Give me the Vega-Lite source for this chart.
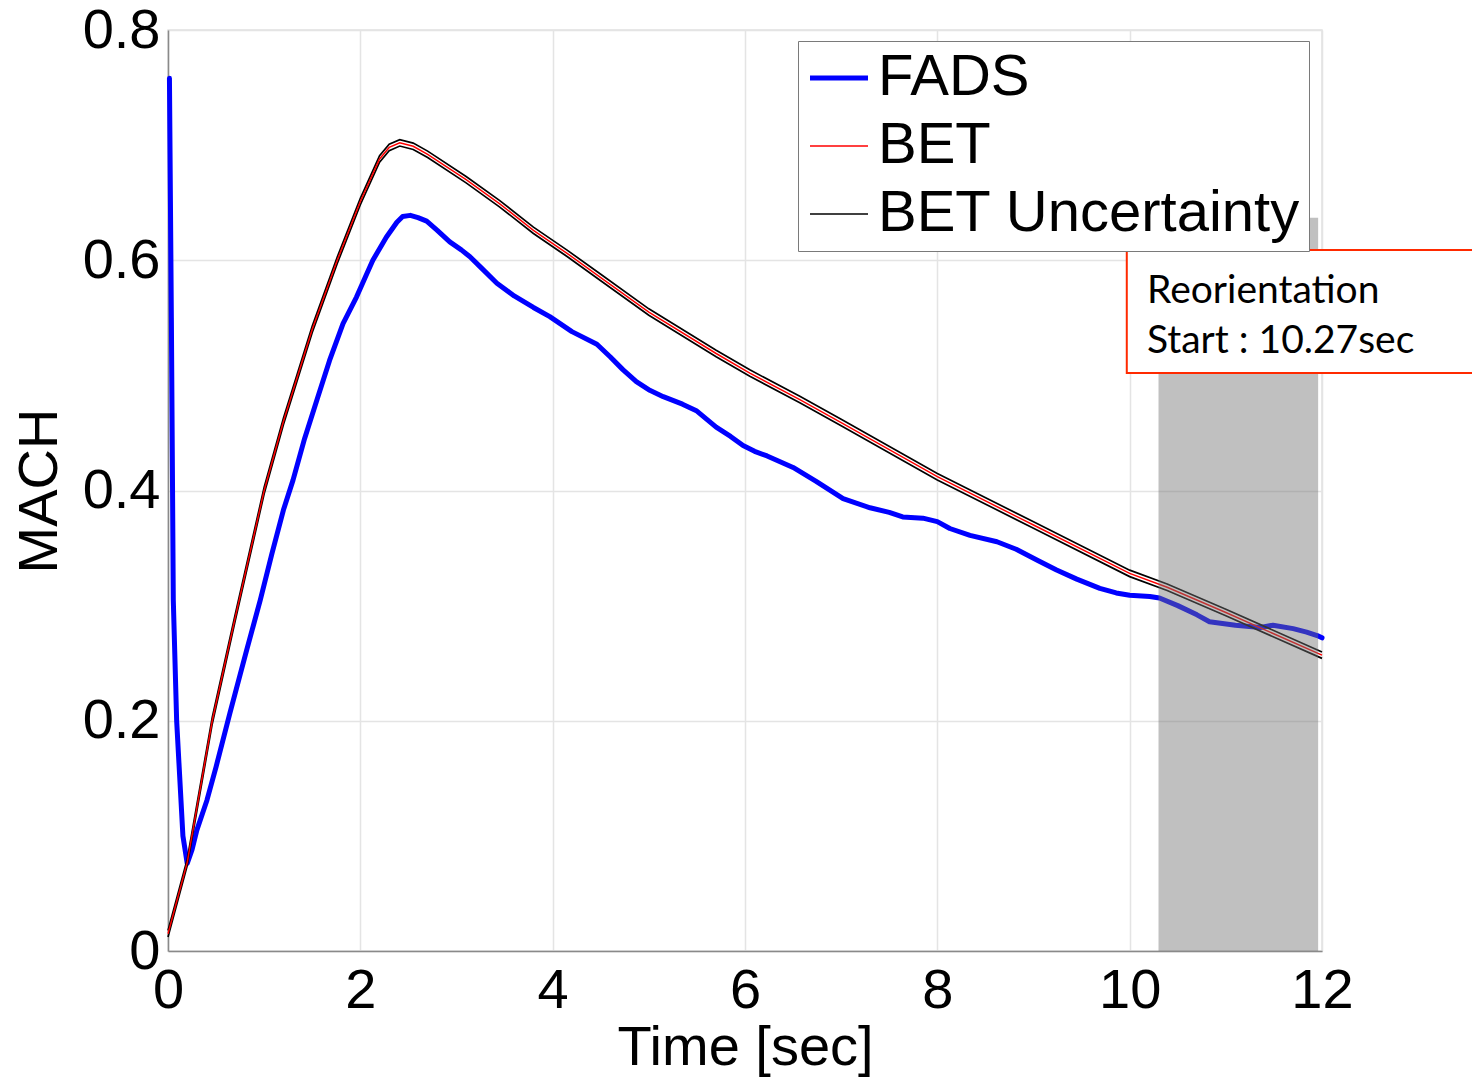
{
  "$schema": "https://vega.github.io/schema/vega-lite/v6.json",
  "width": 1154,
  "height": 921,
  "autosize": {"type": "none"},
  "padding": {"left": 168, "top": 30, "right": 150, "bottom": 129},
  "background": "white",
  "config": {
    "font": "Liberation Sans",
    "view": {"stroke": "#e2e2e2", "strokeWidth": 1.5},
    "axis": {
      "labelFont": "Liberation Sans", "labelFontSize": 56, "labelColor": "#000000",
      "titleFont": "Liberation Sans", "titleFontSize": 56, "titleFontWeight": "normal", "titleColor": "#000000",
      "gridColor": "#e4e4e4", "gridWidth": 1.5,
      "domainColor": "#8a8a8a", "domainWidth": 1.5,
      "tickColor": "#555555", "labelFlush": false, "labelOverlap": false
    }
  },
  "datasets": {
    "fads": [
      {"t": 0.015, "m": 0.758}, {"t": 0.035, "m": 0.55}, {"t": 0.055, "m": 0.305}, {"t": 0.09, "m": 0.2},
      {"t": 0.155, "m": 0.1}, {"t": 0.2, "m": 0.076}, {"t": 0.25, "m": 0.088}, {"t": 0.3, "m": 0.105},
      {"t": 0.405, "m": 0.131}, {"t": 0.5, "m": 0.16}, {"t": 0.645, "m": 0.207}, {"t": 0.75, "m": 0.24},
      {"t": 0.82, "m": 0.262}, {"t": 0.96, "m": 0.305}, {"t": 1.08, "m": 0.345}, {"t": 1.2, "m": 0.383},
      {"t": 1.3, "m": 0.409}, {"t": 1.42, "m": 0.445}, {"t": 1.55, "m": 0.479}, {"t": 1.68, "m": 0.513},
      {"t": 1.82, "m": 0.545}, {"t": 1.96, "m": 0.568}, {"t": 2.05, "m": 0.585}, {"t": 2.13, "m": 0.6},
      {"t": 2.27, "m": 0.62}, {"t": 2.38, "m": 0.633}, {"t": 2.44, "m": 0.638}, {"t": 2.52, "m": 0.639},
      {"t": 2.6, "m": 0.637}, {"t": 2.69, "m": 0.634}, {"t": 2.8, "m": 0.626}, {"t": 2.93, "m": 0.616},
      {"t": 3.05, "m": 0.609}, {"t": 3.14, "m": 0.603}, {"t": 3.25, "m": 0.594}, {"t": 3.42, "m": 0.58},
      {"t": 3.6, "m": 0.569}, {"t": 3.8, "m": 0.559}, {"t": 3.97, "m": 0.551}, {"t": 4.2, "m": 0.538},
      {"t": 4.46, "m": 0.527}, {"t": 4.6, "m": 0.516}, {"t": 4.73, "m": 0.505},
      {"t": 4.87, "m": 0.4945}, {"t": 5.01, "m": 0.487}, {"t": 5.15, "m": 0.4815}, {"t": 5.35, "m": 0.475},
      {"t": 5.5, "m": 0.469}, {"t": 5.7, "m": 0.455}, {"t": 5.85, "m": 0.447}, {"t": 5.98, "m": 0.439},
      {"t": 6.1, "m": 0.434}, {"t": 6.23, "m": 0.43}, {"t": 6.5, "m": 0.42}, {"t": 6.74, "m": 0.408},
      {"t": 7.02, "m": 0.393}, {"t": 7.3, "m": 0.385}, {"t": 7.5, "m": 0.381}, {"t": 7.64, "m": 0.377},
      {"t": 7.85, "m": 0.376}, {"t": 8.0, "m": 0.373}, {"t": 8.13, "m": 0.367}, {"t": 8.34, "m": 0.361},
      {"t": 8.62, "m": 0.3555}, {"t": 8.82, "m": 0.349}, {"t": 9.05, "m": 0.339}, {"t": 9.24, "m": 0.331},
      {"t": 9.45, "m": 0.323}, {"t": 9.69, "m": 0.315}, {"t": 9.86, "m": 0.311}, {"t": 10.0, "m": 0.309},
      {"t": 10.21, "m": 0.308}, {"t": 10.31, "m": 0.3066}, {"t": 10.5, "m": 0.3}, {"t": 10.7, "m": 0.292},
      {"t": 10.83, "m": 0.286}, {"t": 11.1, "m": 0.283}, {"t": 11.36, "m": 0.281}, {"t": 11.49, "m": 0.283},
      {"t": 11.7, "m": 0.28}, {"t": 11.84, "m": 0.277}, {"t": 11.95, "m": 0.274}, {"t": 12.0, "m": 0.272}
    ],
    "bet": [
      {"t": 0.0, "m": 0.015, "lo": 0.0122, "hi": 0.0178},
      {"t": 0.2, "m": 0.077, "lo": 0.0742, "hi": 0.0798},
      {"t": 0.46, "m": 0.2, "lo": 0.1972, "hi": 0.2028},
      {"t": 0.7, "m": 0.29, "lo": 0.2872, "hi": 0.2928},
      {"t": 1.0, "m": 0.4, "lo": 0.3972, "hi": 0.4028},
      {"t": 1.2, "m": 0.46, "lo": 0.4572, "hi": 0.4628},
      {"t": 1.5, "m": 0.54, "lo": 0.5372, "hi": 0.5428},
      {"t": 1.76, "m": 0.6, "lo": 0.5972, "hi": 0.6028},
      {"t": 2.0, "m": 0.651, "lo": 0.6482, "hi": 0.6538},
      {"t": 2.2, "m": 0.688, "lo": 0.6852, "hi": 0.6908},
      {"t": 2.3, "m": 0.698, "lo": 0.6952, "hi": 0.7008},
      {"t": 2.41, "m": 0.702, "lo": 0.6992, "hi": 0.7048},
      {"t": 2.55, "m": 0.699, "lo": 0.6962, "hi": 0.7018},
      {"t": 2.7, "m": 0.692, "lo": 0.6892, "hi": 0.6948},
      {"t": 3.1, "m": 0.67, "lo": 0.6672, "hi": 0.6728},
      {"t": 3.45, "m": 0.649, "lo": 0.6462, "hi": 0.6518},
      {"t": 3.8, "m": 0.626, "lo": 0.6232, "hi": 0.6288},
      {"t": 4.15, "m": 0.606, "lo": 0.6032, "hi": 0.6088},
      {"t": 4.5, "m": 0.585, "lo": 0.5822, "hi": 0.5878},
      {"t": 5.0, "m": 0.555, "lo": 0.5522, "hi": 0.5578},
      {"t": 5.7, "m": 0.519, "lo": 0.5162, "hi": 0.5218},
      {"t": 6.05, "m": 0.502, "lo": 0.4992, "hi": 0.5048},
      {"t": 6.57, "m": 0.479, "lo": 0.4762, "hi": 0.4818},
      {"t": 7.0, "m": 0.459, "lo": 0.4562, "hi": 0.4618},
      {"t": 8.0, "m": 0.412, "lo": 0.4092, "hi": 0.4148},
      {"t": 9.0, "m": 0.37, "lo": 0.3672, "hi": 0.3728},
      {"t": 10.0, "m": 0.328, "lo": 0.3252, "hi": 0.3308},
      {"t": 10.39, "m": 0.316, "lo": 0.3132, "hi": 0.3188},
      {"t": 11.0, "m": 0.294, "lo": 0.2912, "hi": 0.2968},
      {"t": 12.0, "m": 0.257, "lo": 0.2542, "hi": 0.2598}
    ],
    "shade": [{"t": 10.3, "t2": 11.96, "m": 0, "m2": 0.637}],
    "box": [{"t": 9.97, "t2": 13.7, "m": 0.502, "m2": 0.609}],
    "note": [
      {"t": 10.18, "m": 0.5629, "label": "Reorientation"},
      {"t": 10.18, "m": 0.5194, "label": "Start : 10.27sec"}
    ]
  },
  "layer": [
    {
      "data": {"name": "fads"},
      "mark": {"type": "line", "strokeWidth": 5, "strokeJoin": "round", "strokeCap": "round"},
      "encoding": {
        "x": {"field": "t", "type": "quantitative",
              "scale": {"domain": [0, 12], "nice": false, "zero": false},
              "axis": {"values": [0, 2, 4, 6, 8, 10, 12], "format": "d", "title": "Time [sec]",
                       "labelPadding": 12, "titlePadding": 2, "tickSize": 0}},
        "y": {"field": "m", "type": "quantitative",
              "scale": {"domain": [0, 0.8], "nice": false},
              "axis": {"values": [0, 0.2, 0.4, 0.6, 0.8], "format": ".1~f", "title": "MACH",
                       "labelPadding": 8, "titlePadding": 14, "tickSize": 0}},
        "color": {"datum": "FADS", "type": "nominal",
                  "scale": {"domain": ["FADS", "BET", "BET Uncertainty"], "range": ["#0000ff", "#ff0000", "#000000"]},
                  "legend": {
                    "title": null, "orient": "none", "legendX": 630, "legendY": 11,
                    "fillColor": "white", "strokeColor": "#7a7a7a", "padding": 8,
                    "symbolType": "stroke", "symbolSize": 3364, "symbolStrokeWidth": 1.5, "symbolOffset": 4,
                    "labelFont": "Liberation Sans", "labelFontSize": 58, "labelColor": "#000000",
                    "labelOffset": 10, "rowPadding": 10, "labelLimit": 800,
                    "encode": {"symbols": {"update": {"strokeWidth": {"signal": "datum.value === 'FADS' ? 5 : 1.5"}}}}
                  }}
      }
    },
    {
      "data": {"name": "bet"},
      "mark": {"type": "line", "strokeWidth": 1.7, "color": "#111111"},
      "encoding": {
        "x": {"field": "t", "type": "quantitative"},
        "y": {"field": "lo", "type": "quantitative"},
        "color": {"datum": "BET Uncertainty", "type": "nominal"}
      }
    },
    {
      "data": {"name": "bet"},
      "mark": {"type": "line", "strokeWidth": 1.7},
      "encoding": {
        "x": {"field": "t", "type": "quantitative"},
        "y": {"field": "hi", "type": "quantitative"},
        "color": {"datum": "BET Uncertainty", "type": "nominal"}
      }
    },
    {
      "data": {"name": "bet"},
      "mark": {"type": "line", "strokeWidth": 1.5},
      "encoding": {
        "x": {"field": "t", "type": "quantitative"},
        "y": {"field": "m", "type": "quantitative"},
        "color": {"datum": "BET", "type": "nominal"}
      }
    },
    {
      "data": {"name": "shade"},
      "mark": {"type": "rect", "color": "#737373", "opacity": 0.45},
      "encoding": {
        "x": {"field": "t", "type": "quantitative"},
        "x2": {"field": "t2"},
        "y": {"field": "m", "type": "quantitative"},
        "y2": {"field": "m2"}
      }
    },
    {
      "data": {"name": "box"},
      "mark": {"type": "rect", "fill": "white", "stroke": "#ff2a00", "strokeWidth": 2, "clip": false},
      "encoding": {
        "x": {"field": "t", "type": "quantitative"},
        "x2": {"field": "t2"},
        "y": {"field": "m", "type": "quantitative"},
        "y2": {"field": "m2"}
      }
    },
    {
      "data": {"name": "note"},
      "mark": {"type": "text", "font": "Lato", "fontSize": 39, "align": "left", "baseline": "alphabetic", "color": "#000000", "clip": false},
      "encoding": {
        "x": {"field": "t", "type": "quantitative"},
        "y": {"field": "m", "type": "quantitative"},
        "text": {"field": "label"}
      }
    }
  ]
}
